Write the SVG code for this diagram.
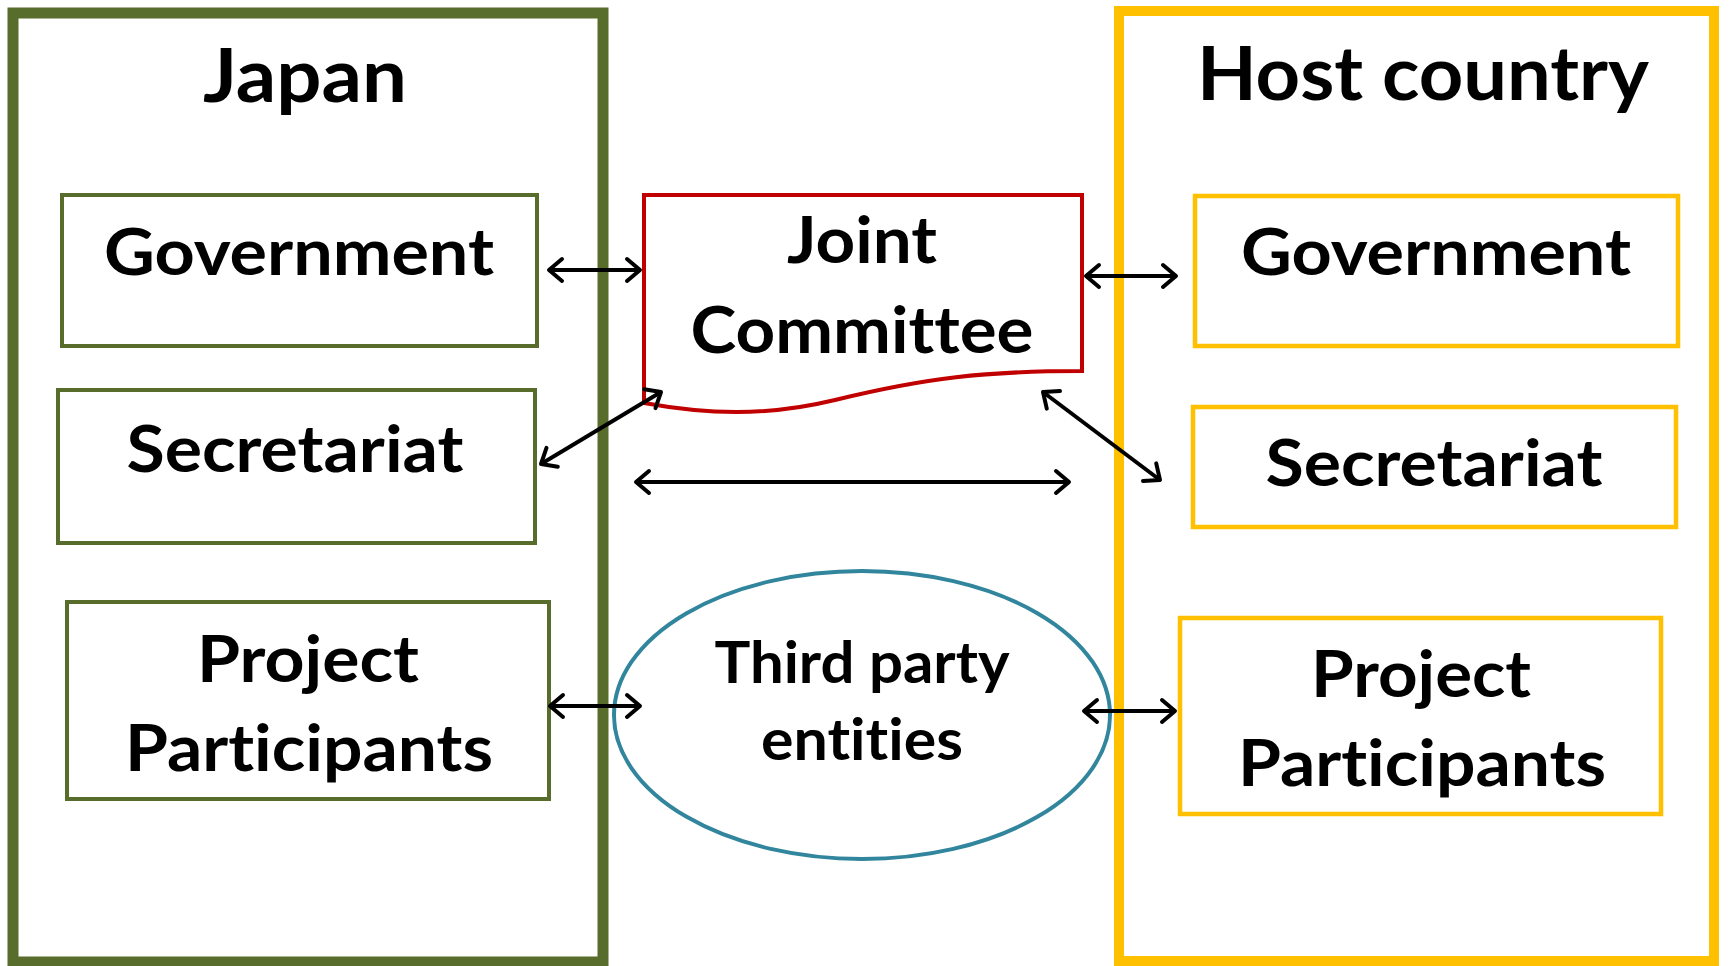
<svg xmlns="http://www.w3.org/2000/svg" width="1733" height="966" viewBox="0 0 1733 966">
<style>
.frame-jp{fill:none;stroke:#586C2B;stroke-width:11}
.frame-host{fill:none;stroke:#FFC000;stroke-width:10}
.box-jp{fill:#fff;stroke:#586C2B;stroke-width:4}
.box-host{fill:#fff;stroke:#FFC000;stroke-width:4.5}
.jc{fill:#fff;stroke:#C00000;stroke-width:4}
.tp{fill:#fff;stroke:#31859C;stroke-width:4}
text{font-family:Lato,"Liberation Sans",sans-serif;font-weight:bold;fill:#000;text-anchor:middle;font-variant-ligatures:none;font-feature-settings:"liga" 0}
.title{font-size:74px}
.lbl{font-size:65px}
.lbl-s{font-size:57px}
.conn{stroke:#000;stroke-width:4;fill:none;marker-start:url(#ah);marker-end:url(#ah)}
</style>
<defs>
<marker id="ah" markerUnits="userSpaceOnUse" viewBox="-18 -14 22 28" refX="0" refY="0" markerWidth="22" markerHeight="28" orient="auto-start-reverse">
<path d="M-13,-11 L0,0 L-13,11" fill="none" stroke="#000" stroke-width="4" stroke-linecap="round" stroke-linejoin="round"/>
</marker>
</defs>
<rect width="1733" height="966" fill="#fff"/>
<g id="japan">
<rect class="frame-jp" x="13" y="13" width="590" height="949"/>
<text class="title" x="305" y="102" textLength="204" lengthAdjust="spacingAndGlyphs">Japan</text>
</g>
<g id="host-country">
<rect class="frame-host" x="1119" y="11" width="595" height="950"/>
<text class="title" x="1423" y="100" textLength="452" lengthAdjust="spacingAndGlyphs">Host country</text>
</g>
<g id="jp-government">
<rect class="box-jp" x="62" y="195" width="475" height="151"/>
<text class="lbl" x="299" y="275" textLength="390" lengthAdjust="spacingAndGlyphs">Government</text>
</g>
<g id="jp-secretariat">
<rect class="box-jp" x="58" y="390" width="477" height="153"/>
<text class="lbl" x="295" y="472" textLength="337" lengthAdjust="spacingAndGlyphs">Secretariat</text>
</g>
<g id="jp-participants">
<rect class="box-jp" x="67" y="602" width="482" height="197"/>
<text class="lbl" x="308" y="682" textLength="222" lengthAdjust="spacingAndGlyphs">Project</text>
<text class="lbl" x="309" y="771" textLength="368" lengthAdjust="spacingAndGlyphs">Participants</text>
</g>
<g id="joint-committee">
<path class="jc" d="M644,195 L1082,195 L1082,371 C985,371 925,378 835,400 C765,417 705,414 644,403 Z"/>
<text class="lbl" x="862" y="263" textLength="150" lengthAdjust="spacingAndGlyphs">Joint</text>
<text class="lbl" x="862" y="353" textLength="343" lengthAdjust="spacingAndGlyphs">Committee</text>
</g>
<g id="third-party">
<ellipse class="tp" cx="862" cy="715" rx="248" ry="144"/>
<text class="lbl-s" x="862" y="683" textLength="295" lengthAdjust="spacingAndGlyphs">Third party</text>
<text class="lbl-s" x="862" y="760" textLength="202" lengthAdjust="spacingAndGlyphs">entities</text>
</g>
<g id="host-government">
<rect class="box-host" x="1195" y="196" width="483" height="150"/>
<text class="lbl" x="1436" y="275" textLength="390" lengthAdjust="spacingAndGlyphs">Government</text>
</g>
<g id="host-secretariat">
<rect class="box-host" x="1193" y="407" width="483" height="120"/>
<text class="lbl" x="1434" y="486" textLength="337" lengthAdjust="spacingAndGlyphs">Secretariat</text>
</g>
<g id="host-participants">
<rect class="box-host" x="1180" y="618" width="481" height="196"/>
<text class="lbl" x="1421" y="697" textLength="220" lengthAdjust="spacingAndGlyphs">Project</text>
<text class="lbl" x="1422" y="786" textLength="368" lengthAdjust="spacingAndGlyphs">Participants</text>
</g>
<g id="connectors">
<line class="conn" x1="549" y1="270" x2="640" y2="270"/>
<line class="conn" x1="1086" y1="276" x2="1176" y2="276"/>
<line class="conn" x1="541" y1="464" x2="661" y2="392"/>
<line class="conn" x1="1043" y1="392" x2="1160" y2="480"/>
<line class="conn" x1="636" y1="482" x2="1069" y2="482"/>
<line class="conn" x1="550" y1="706" x2="640" y2="706"/>
<line class="conn" x1="1084" y1="711" x2="1175" y2="711"/>
</g>
</svg>
